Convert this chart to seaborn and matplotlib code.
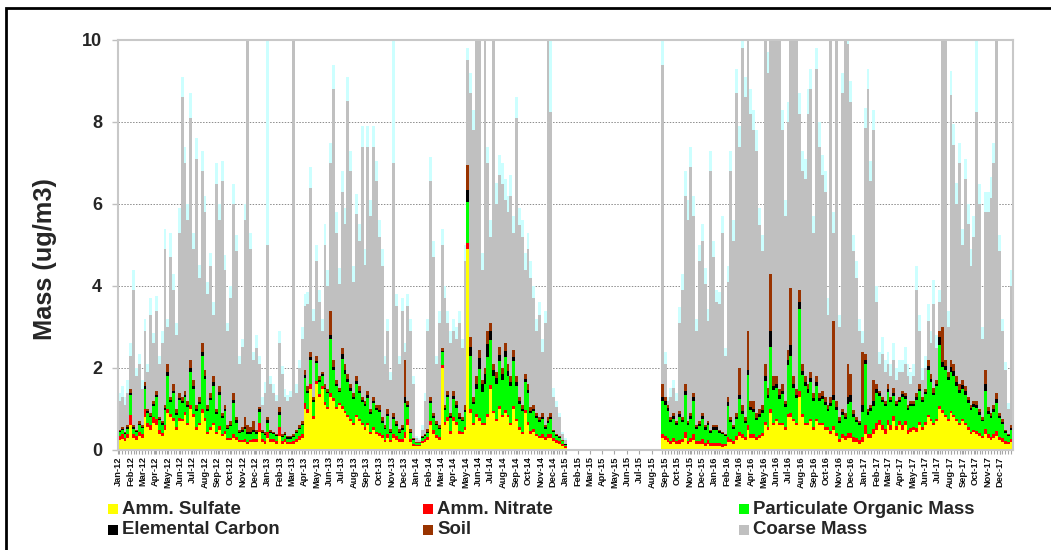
import numpy as np
import pandas as pd
import matplotlib
matplotlib.use("Agg")
import matplotlib.pyplot as plt
import matplotlib.dates as mdates
from matplotlib.patches import Rectangle
import seaborn as sns

# ---------------- data (weekly samples, ug/m3) ----------------
# segment 1: 2012-01-04 .. 2014-12-31 (157 weeks); segment 2: 2015-08-26 .. 2017-12-27 (123 weeks)
sulfate = [
    0.25,0.28,0.22,0.3, 0.6,0.3,0.25,0.35,0.3, 0.8,0.55,0.5,0.65, 0.6,0.4,0.35,0.5, 0.9,0.8,0.7,0.5,0.7, 0.7,0.85,0.6,1.0,
    0.8,0.5,0.6,0.9, 0.7,0.4,0.5,0.6,0.4, 0.5,0.35,0.4,0.25, 0.25,0.3,0.25,0.2,0.2, 0.2,0.15,0.2,0.2, 0.2,0.45,0.2,0.15,
    0.3,0.2,0.2,0.15,0.35, 0.15,0.2,0.15,0.15, 0.15,0.2,0.25,0.3, 1.0,0.9,1.5,0.75, 1.6,1.3,1.5,1.1,1.0, 1.3,1.2,1.0,1.1,
    1.0,0.9,0.8,0.7,0.6, 0.8,0.7,0.6,0.5, 0.6,0.4,0.5,0.4, 0.35,0.3,0.2,0.3,0.2, 0.3,0.25,0.2,0.2, 0.3,0.6,0.2,0.1,
    0.1,0.1,0.17,0.2,0.25, 0.6,0.4,0.3,0.25, 2.0,0.6,0.7,0.4, 0.7,0.6,0.4,0.4,0.5, 4.9,0.9,0.6,0.8, 0.7,0.6,0.6,0.8,
    1.5,0.9,0.7,1.0,0.8, 0.9,0.8,0.6,1.0, 0.7,0.5,0.4,0.9, 0.6,0.4,0.45,0.35,0.3, 0.3,0.25,0.3,0.3, 0.22,0.18,0.15,0.1,0.06,
    0.3, 0.25,0.2,0.15,0.2,0.15, 0.15,0.2,0.3,0.15, 0.2,0.25,0.15,0.15, 0.15,0.1,0.15,0.1,0.1,
    0.1,0.1,0.08,0.1, 0.2,0.2,0.15,0.25, 0.35,0.3,0.25,0.5,0.3, 0.3,0.25,0.3,0.35, 0.6,0.5,0.9,0.6, 0.7,0.6,0.6,0.5,0.8,
    0.8,0.7,0.6,1.3, 0.8,0.6,0.6,0.7,0.5, 0.7,0.6,0.6,0.5, 0.5,0.4,0.5,0.35, 0.2,0.3,0.25,0.3,0.3, 0.2,0.2,0.15,0.2,
    0.4,0.3,0.3,0.4, 0.5,0.6,0.5,0.4, 0.6,0.5,0.7,0.5,0.6, 0.5,0.6,0.4,0.45, 0.5,0.45,0.6,0.5,0.6, 0.8,0.7,0.6,0.7,
    1.0,0.9,0.8,0.7, 0.9,0.8,0.7,0.6,0.7, 0.6,0.5,0.4,0.45, 0.4,0.35,0.3,0.4, 0.3,0.25,0.3,0.35,0.25, 0.2,0.15,0.15,0.2,
]
nitrate = [
    0.08,0.1,0.07,0.1, 0.25,0.1,0.08,0.1,0.08, 0.2,0.12,0.1,0.15, 0.15,0.08,0.07,0.1, 0.1,0.08,0.08,0.06,0.07, 0.06,0.07,0.05,0.1,
    0.08,0.05,0.06,0.1, 0.08,0.05,0.06,0.07,0.05, 0.08,0.05,0.06,0.04, 0.05,0.1,0.06,0.04,0.04, 0.06,0.05,0.05,0.06, 0.08,0.2,0.08,0.08,
    0.15,0.08,0.08,0.08,0.2, 0.07,0.07,0.05,0.05, 0.07,0.08,0.08,0.1, 0.15,0.1,0.1,0.08, 0.08,0.06,0.06,0.06,0.05, 0.1,0.06,0.05,0.04,
    0.08,0.06,0.06,0.05,0.05, 0.06,0.05,0.05,0.05, 0.05,0.05,0.05,0.05, 0.07,0.06,0.05,0.08,0.05, 0.1,0.08,0.06,0.08, 0.15,0.15,0.06,0.05,
    0.03,0.03,0.05,0.06,0.07, 0.1,0.08,0.06,0.06, 0.08,0.08,0.1,0.06, 0.1,0.08,0.06,0.05,0.07, 0.15,0.1,0.06,0.08, 0.07,0.06,0.06,0.08,
    0.08,0.06,0.06,0.07,0.06, 0.07,0.06,0.05,0.07, 0.06,0.05,0.05,0.07, 0.08,0.06,0.06,0.05,0.05, 0.1,0.06,0.08,0.1, 0.08,0.07,0.06,0.05,0.03,
    0.1, 0.1,0.1,0.08,0.1,0.07, 0.1,0.08,0.15,0.07, 0.1,0.15,0.07,0.08, 0.12,0.08,0.1,0.07,0.08,
    0.08,0.07,0.06,0.05, 0.12,0.08,0.06,0.08, 0.1,0.08,0.06,0.12,0.08, 0.08,0.06,0.06,0.07, 0.08,0.06,0.1,0.07, 0.06,0.05,0.06,0.05,0.08,
    0.1,0.06,0.06,0.15, 0.07,0.06,0.05,0.06,0.05, 0.06,0.05,0.05,0.05, 0.06,0.07,0.08,0.07, 0.08,0.1,0.1,0.12,0.12, 0.12,0.1,0.1,0.12,
    0.2,0.1,0.1,0.12, 0.15,0.12,0.1,0.1, 0.12,0.1,0.12,0.08,0.1, 0.1,0.1,0.08,0.08, 0.07,0.08,0.08,0.07,0.08, 0.06,0.05,0.05,0.05,
    0.07,0.08,0.06,0.05, 0.06,0.06,0.05,0.05,0.05, 0.05,0.05,0.05,0.05, 0.06,0.06,0.05,0.1, 0.08,0.07,0.08,0.12,0.07, 0.1,0.07,0.05,0.08,
]
pom = [
    0.1,0.1,0.1,0.12, 0.5,0.12,0.1,0.15,0.15, 0.5,0.23,0.2,0.28, 0.55,0.24,0.2,0.38, 0.8,0.3,0.6,0.3,0.45, 0.38,0.38,0.4,0.8,
    0.6,0.4,0.45,1.3, 0.95,0.5,0.65,0.9,0.42, 0.75,0.37,0.5,0.22, 0.28,0.75,0.36,0.18,0.2, 0.25,0.2,0.15,0.17, 0.12,0.28,0.13,0.13,
    0.22,0.13,0.1,0.1,0.3, 0.1,0.1,0.08,0.08, 0.1,0.13,0.17,0.2, 0.6,0.4,0.6,0.35, 0.45,0.3,0.25,0.32,0.33, 1.3,0.7,0.5,0.28,
    1.15,0.9,0.8,0.7,0.6, 0.76,0.65,0.52,0.52, 0.62,0.42,0.6,0.52, 0.5,0.3,0.25,0.45,0.17, 0.35,0.25,0.15,0.2, 0.7,0.3,0.15,0.09,
    0.04,0.04,0.08,0.09,0.1, 0.45,0.3,0.25,0.2, 0.3,0.3,0.5,0.33, 0.45,0.35,0.3,0.25,0.35, 1.0,1.3,0.45,0.6, 1.2,0.75,0.95,1.4,
    1.1,0.85,0.85,1.1,0.85, 1.3,0.95,0.9,1.1, 0.8,0.58,0.5,0.7, 0.7,0.45,0.45,0.38,0.33, 0.35,0.2,0.28,0.35, 0.13,0.1,0.09,0.06,0.04,
    0.8, 0.75,0.65,0.45,0.45,0.38, 0.55,0.4,0.9,0.38, 0.45,0.8,0.3,0.36, 0.48,0.32,0.35,0.25,0.32,
    0.32,0.25,0.24,0.19, 0.75,0.4,0.3,0.42, 0.8,0.5,0.35,1.2,0.6, 0.55,0.42,0.45,0.48, 1.0,0.7,1.5,0.8, 0.75,0.6,0.7,0.5,1.2,
    1.4,0.75,0.6,2.0, 0.95,0.9,0.75,0.9,0.65, 0.8,0.55,0.6,0.55, 0.4,0.6,0.65,0.55, 0.37,0.45,0.4,0.7,0.75, 0.48,0.38,0.35,0.6,
    1.5,0.45,0.55,0.55, 0.75,0.6,0.57,0.57, 0.7,0.56,0.5,0.5,0.48, 0.7,0.55,0.5,0.54, 0.5,0.7,0.75,0.6,0.68, 1.1,0.9,0.68,0.8,
    1.5,1.05,1.1,0.95, 0.95,0.95,0.8,0.74,0.75, 0.7,0.6,0.52,0.56, 0.57,0.45,0.35,0.95, 0.5,0.45,0.55,0.68,0.45, 0.33,0.2,0.15,0.22,
]
elemental_carbon = [
    0.03,0.03,0.03,0.04, 0.05,0.04,0.03,0.04,0.03, 0.05,0.04,0.04,0.04, 0.05,0.03,0.03,0.04, 0.1,0.05,0.07,0.05,0.06, 0.06,0.05,0.05,0.1,
    0.07,0.05,0.06,0.1, 0.08,0.05,0.06,0.08,0.05, 0.08,0.05,0.05,0.03, 0.04,0.08,0.05,0.03,0.04, 0.05,0.05,0.04,0.05, 0.04,0.06,0.04,0.04,
    0.05,0.04,0.03,0.03,0.08, 0.03,0.03,0.03,0.03, 0.03,0.04,0.04,0.04, 0.07,0.05,0.07,0.05, 0.05,0.04,0.04,0.04,0.04, 0.1,0.07,0.05,0.03,
    0.1,0.09,0.07,0.06,0.05, 0.06,0.05,0.05,0.05, 0.06,0.05,0.05,0.05, 0.06,0.05,0.04,0.06,0.03, 0.06,0.05,0.04,0.05, 0.15,0.05,0.04,0.02,
    0.01,0.01,0.02,0.02,0.03, 0.05,0.04,0.03,0.03, 0.04,0.04,0.05,0.04, 0.07,0.06,0.05,0.04,0.06, 0.3,0.2,0.07,0.12, 0.28,0.19,0.24,0.3,
    0.22,0.14,0.14,0.15,0.14, 0.15,0.12,0.1,0.1, 0.09,0.07,0.05,0.06, 0.08,0.05,0.05,0.04,0.04, 0.06,0.04,0.05,0.06, 0.03,0.02,0.02,0.02,0.01,
    0.1, 0.1,0.08,0.06,0.07,0.05, 0.07,0.06,0.1,0.05, 0.07,0.1,0.04,0.05, 0.07,0.05,0.05,0.04,0.05,
    0.05,0.04,0.03,0.03, 0.1,0.05,0.04,0.06, 0.1,0.07,0.05,0.13,0.07, 0.08,0.06,0.06,0.07, 0.12,0.09,0.4,0.1, 0.1,0.08,0.09,0.06,0.12,
    0.25,0.1,0.08,0.15, 0.1,0.09,0.08,0.09,0.07, 0.09,0.07,0.07,0.07, 0.05,0.08,0.12,0.08, 0.06,0.07,0.06,0.18,0.18, 0.08,0.06,0.05,0.18,
    0.1,0.07,0.07,0.13, 0.08,0.06,0.06,0.06, 0.08,0.06,0.07,0.05,0.05, 0.06,0.06,0.05,0.05, 0.05,0.07,0.07,0.06,0.06, 0.1,0.08,0.07,0.06,
    0.18,0.12,0.1,0.08, 0.12,0.11,0.1,0.08,0.08, 0.08,0.06,0.05,0.06, 0.07,0.06,0.04,0.15, 0.07,0.06,0.07,0.1,0.06, 0.05,0.04,0.02,0.04,
]
soil = [
    0.04,0.04,0.03,0.04, 0.1,0.04,0.04,0.06,0.04, 0.1,0.06,0.06,0.08, 0.1,0.05,0.05,0.08, 0.2,0.07,0.15,0.09,0.12, 0.1,0.1,0.1,0.2,
    0.15,0.1,0.13,0.2, 0.14,0.1,0.13,0.15,0.08, 0.14,0.08,0.09,0.06, 0.08,0.17,0.08,0.05,0.07, 0.24,0.15,0.11,0.22, 0.06,0.06,0.05,0.05,
    0.08,0.05,0.04,0.04,0.12, 0.05,0.05,0.04,0.04, 0.05,0.05,0.06,0.06, 0.13,0.1,0.13,0.07, 0.12,0.1,0.05,0.08,0.08, 0.6,0.17,0.1,0.05,
    0.17,0.15,0.12,0.09,0.1, 0.12,0.1,0.08,0.08, 0.12,0.08,0.1,0.08, 0.12,0.09,0.06,0.11,0.05, 0.09,0.07,0.05,0.07, 0.9,0.1,0.05,0.04,
    0.02,0.02,0.03,0.03,0.05, 0.1,0.08,0.06,0.06, 0.08,0.08,0.1,0.07, 0.13,0.11,0.09,0.06,0.12, 0.6,0.25,0.12,0.2, 0.2,0.1,0.15,0.32,
    0.2,0.15,0.15,0.18,0.15, 0.18,0.17,0.15,0.18, 0.15,0.1,0.1,0.12, 0.14,0.09,0.09,0.08,0.08, 0.09,0.05,0.09,0.09, 0.04,0.03,0.03,0.02,0.01,
    0.3, 0.1,0.07,0.06,0.08,0.05, 0.08,0.06,0.15,0.05, 0.08,0.1,0.04,0.06, 0.08,0.05,0.05,0.04,0.05,
    0.05,0.04,0.04,0.03, 0.13,0.07,0.05,0.09, 0.65,0.15,0.09,0.95,0.15, 0.19,0.11,0.13,0.13, 0.3,0.15,1.4,0.23, 0.19,0.17,0.15,0.09,0.25,
    1.4,0.19,0.16,0.3, 0.18,0.15,0.12,0.15,0.13, 0.15,0.13,0.13,0.13, 0.09,0.15,1.8,0.15, 0.09,0.08,0.09,0.8,0.5, 0.09,0.06,0.05,1.3,
    0.15,0.08,0.08,0.5, 0.12,0.07,0.07,0.07, 0.1,0.08,0.11,0.07,0.07, 0.09,0.09,0.07,0.08, 0.08,0.1,0.1,0.07,0.08, 0.14,0.12,0.1,0.09,
    0.15,0.85,0.14,0.12, 0.17,0.18,0.15,0.13,0.12, 0.12,0.09,0.08,0.08, 0.1,0.08,0.06,0.35, 0.1,0.07,0.1,0.15,0.07, 0.07,0.04,0.03,0.06,
]
coarse_mass = [
    0.7,0.75,0.65,0.8, 0.8,3.3,1.3,1.4,0.9, 1.25,0.9,2.4,1.4, 1.95,1.3,1.9,3.8, 0.9,3.4,2.3,1.8,3.9, 7.3,5.55,4.4,5.9,
    3.2,6.0,2.9,4.2, 3.85,2.7,3.1,1.5,5.5, 4.05,5.65,3.3,2.3, 3.0,4.6,4.05,1.6,1.95, 4.8,9.9,4.35,1.5, 2.0,1.05,0.6,0.95,
    4.2,1.1,0.95,0.8,1.55, 1.45,0.85,0.85,0.95, 10.1,0.9,1.4,2.0, 1.55,2.0,4.0,1.85, 2.3,1.8,1.0,3.4,2.5, 3.6,6.6,3.6,2.55,
    3.8,3.4,6.65,5.2,2.7, 3.95,3.55,6.1,3.3, 5.95,4.7,6.1,5.45, 4.1,3.7,1.5,1.9,1.2, 6.1,2.8,1.6,2.8, 0.2,2.3,2.4,1.3,
    0.1,0.05,0.15,0.8,2.4, 5.25,3.8,1.4,2.5, 2.5,2.6,1.65,1.7, 1.45,1.5,2.2,1.7,3.5, 2.55,5.95,6.5,8.7, 8.05,2.7,8.5,4.1,
    2.1,8.4,4.1,4.2,4.5, 3.5,3.7,4.4,2.85, 6.3,4.2,4.1,2.55, 3.3,3.15,2.6,2.0,2.5, 1.5,2.5,9.7,7.35, 0.8,0.65,0.45,0.15,0.1,
    7.8, 0.8,0.1,0.5,0.6,0.5, 2.15,3.1,4.6,4.9, 6.0,4.3,2.3,3.9, 4.2,3.45,2.45,6.3,4.1,
    3.0,3.05,4.85,1.9, 2.8,6.0,4.5,7.8, 5.4,8.7,7.8,7.6,7.0, 6.6,6.4,4.5,3.75, 8.4,7.7,6.2,8.7, 8.7,9.0,6.2,4.5,5.55,
    6.55,8.7,9.0,4.3, 4.7,4.8,6.6,6.9,3.9, 7.5,6.0,5.25,5.0, 2.2,9.2,2.15,9.3, 2.2,7.7,9.6,7.8,6.65, 3.88,3.4,2.2,0.2,
    5.5,7.8,5.45,6.1, 2.0,0.65,1.05,0.7, 0.5,0.5,0.7,0.5,0.6, 0.45,0.7,0.7,0.4, 0.6,2.5,1.3,0.4,0.5, 0.95,0.75,2.05,0.8,
    0.7,7.5,8.3,1.1, 6.45,5.35,4.2,5.4,3.3, 5.05,4.2,3.4,4.0, 7.05,5.0,1.9,3.85, 4.75,5.25,5.9,9.1,3.95, 2.15,1.45,0.6,3.4,
]
sea_salt = [
    0.2,0.25,0.2,0.3, 0.3,0.5,0.2,0.25,0.2, 0.3,0.2,0.4,0.25, 0.35,0.2,0.3,0.5, 0.2,0.6,0.4,0.3,0.6, 0.5,0.4,0.4,0.6,
    0.4,0.5,0.3,0.5, 0.4,0.3,0.3,0.3,0.5, 0.4,0.5,0.35,0.2, 0.3,0.5,0.4,0.2,0.2, 0.4,0.3,0.4,0.2, 0.3,0.2,0.2,0.25,
    5.5,0.2,0.2,0.15,0.3, 0.2,0.2,0.15,0.15, 0.2,0.2,0.2,0.3, 0.3,0.3,0.5,0.3, 0.4,0.3,0.3,0.5,0.4, 0.5,0.6,0.5,0.4,
    0.5,0.4,0.6,0.5,0.4, 0.5,0.4,0.5,0.4, 0.5,0.4,0.5,0.5, 0.4,0.4,0.2,0.3,0.2, 3.6,0.3,0.2,0.3, 0.2,0.3,0.3,0.2,
    0.05,0.05,0.1,0.2,0.3, 0.6,0.4,0.2,0.3, 0.4,0.3,0.3,0.3, 0.3,0.3,0.3,0.2,0.4, 0.3,0.5,0.5,0.3, 0.3,0.4,0.3,0.4,
    0.4,0.2,0.5,0.5,0.5, 0.5,0.4,0.5,0.4, 0.5,0.4,0.4,0.4, 0.4,0.4,0.3,0.3,0.3, 0.3,0.3,0.3,2.0, 0.2,0.15,0.1,0.05,0.05,
    0.6, 0.3,0.1,0.2,0.2,0.2, 0.4,0.4,0.6,0.5, 0.5,0.5,0.3,0.4, 0.4,0.4,0.3,0.5,0.4,
    0.3,0.3,0.4,0.2, 0.4,0.5,0.5,0.6, 0.5,0.4,0.5,0.3,0.6, 0.5,0.5,0.4,0.4, 0.3,0.5,0.3,0.3, 0.3,0.3,0.5,0.4,0.5,
    0.3,0.3,0.3,0.5, 0.5,0.5,0.6,0.5,0.4, 0.5,0.6,0.5,0.5, 0.4,0.3,0.5,0.3, 0.3,0.5,0.3,0.4,0.5, 0.4,0.4,0.3,0.3,
    0.5,0.5,0.5,0.5, 0.4,0.3,0.4,0.3, 0.3,0.3,0.4,0.3,0.3, 0.3,0.4,0.3,0.3, 0.3,0.6,0.4,0.3,0.3, 0.4,0.3,0.6,0.3,
    0.3,0.2,0.2,0.4, 0.6,0.5,0.5,0.5,0.4, 0.5,0.5,0.4,0.5, 2.3,0.5,0.3,0.5, 0.5,0.5,0.5,0.3,0.4, 0.3,0.2,0.15,0.4,
]

component_names = ["Amm. Sulfate", "Amm. Nitrate", "Particulate Organic Mass",
                   "Elemental Carbon", "Soil", "Coarse Mass", "Sea Salt"]
component_colors = ["#FFFF00", "#FF0000", "#00FF00", "#000000", "#993300", "#C0C0C0", "#CCFFFF"]
series = [sulfate, nitrate, pom, elemental_carbon, soil, coarse_mass, sea_salt]

# sampling dates
seg1 = pd.date_range("2012-01-04", periods=157, freq="7D")
seg2 = pd.date_range("2015-08-26", periods=123, freq="7D")
dates = seg1.append(seg2)
for name, s in zip(component_names, series):
    assert len(s) == len(dates), (name, len(s), len(dates))

x = mdates.date2num(dates.to_pydatetime())
n1 = len(seg1)
edges = np.concatenate([x[:n1] - 3.5, [x[n1 - 1] + 3.5], x[n1:] - 3.5, [x[-1] + 3.5]])
bin_edges = [float(e) for e in edges]

df = pd.concat([pd.DataFrame({"x": x, "mass": s, "component": name})
                for name, s in zip(component_names, series)], ignore_index=True)

# ---------------- figure ----------------
sns.set_style("white")
plt.rcParams["font.family"] = ["Liberation Sans", "DejaVu Sans"]

W, H = 1051, 550
fig = plt.figure(figsize=(W / 100, H / 100), dpi=100)
ax = fig.add_axes([118 / W, 1 - 450 / H, (1013 - 118) / W, (450 - 40) / H])

palette = dict(zip(component_names, component_colors))
sns.histplot(data=df, x="x", weights="mass", hue="component",
             hue_order=component_names[::-1], multiple="stack", bins=bin_edges,
             palette=palette, alpha=1, linewidth=0, legend=False, ax=ax)

ax.set_xlim(mdates.date2num(pd.Timestamp("2012-01-01")), mdates.date2num(pd.Timestamp("2018-01-01")))
ax.set_ylim(0, 10)
ax.set_yticks([0, 2, 4, 6, 8, 10])
ax.set_yticklabels(["0", "2", "4", "6", "8", "10"], fontsize=13, fontweight="bold")
ax.yaxis.grid(True, linestyle=(0, (1.5, 1.5)), color="#8C8C8C", linewidth=0.7)
ax.xaxis.grid(False)
ax.set_axisbelow(True)
ax.set_xlabel("")
ax.set_ylabel("")

months = pd.date_range("2012-01-01", "2017-12-01", freq="MS")
ax.set_xticks(mdates.date2num(months.to_pydatetime()))
ax.set_xticklabels([m.strftime("%b-%y") for m in months], rotation=90,
                   fontsize=6.7, fontweight="bold", color="#111111")
ax.set_xticks(x, minor=True)
ax.tick_params(axis="x", which="both", length=3, width=0.8, color="#A6A6A6", pad=1.5, bottom=True)
ax.tick_params(axis="y", length=4.5, width=1, color="#BFBFBF", pad=7, left=True)
for sp in ax.spines.values():
    sp.set_color("#C8C8C8")
    sp.set_linewidth(1.5)

fig.text(45 / W, 1 - 259 / H, "Mass (ug/m3)", rotation=90, ha="center", va="center",
         fontsize=18.3, fontweight="bold")

# legend (manual, 3 columns x 2 rows)
legend_pos = [(108, 509), (423, 509), (739, 509), (108, 530), (423, 530), (739, 530)]
legend_items = ["Amm. Sulfate", "Amm. Nitrate", "Particulate Organic Mass",
                "Elemental Carbon", "Soil", "Coarse Mass"]
for name, (px, py) in zip(legend_items, legend_pos):
    fig.add_artist(Rectangle((px / W, 1 - (py + 5) / H), 10 / W, 10 / H,
                             transform=fig.transFigure, facecolor=palette[name], edgecolor="none"))
    fig.text((px + 14) / W, 1 - py / H, name, ha="left", va="center",
             fontsize=13.4, fontweight="bold")

# outer black frame (left and top visible)
fig.add_artist(Rectangle((6 / W, -0.1), 1.2, 0.1 + 1 - 8 / H, transform=fig.transFigure,
                         fill=False, edgecolor="black", linewidth=2))

fig.savefig("out.png", dpi=100)
